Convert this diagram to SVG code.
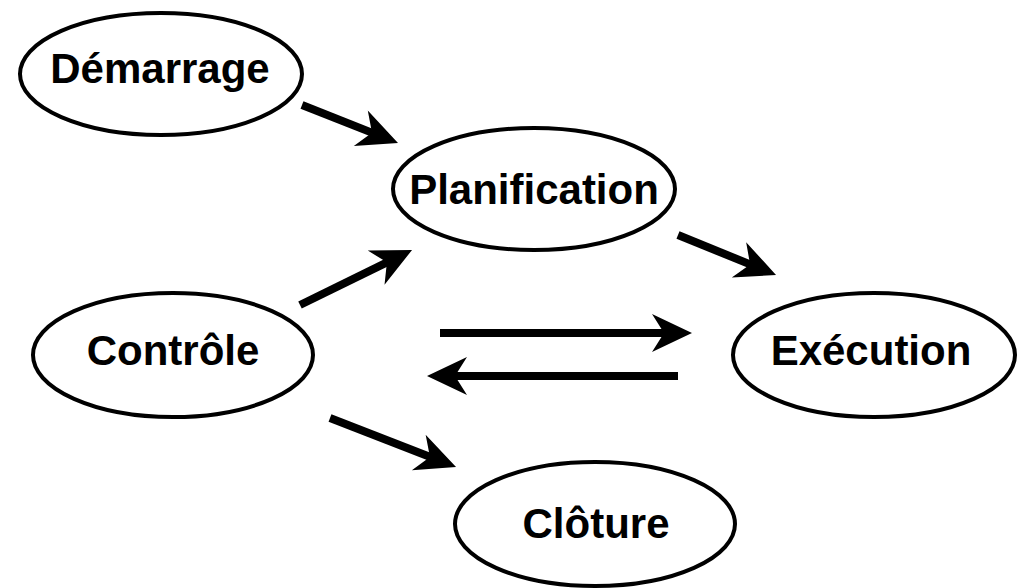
<svg xmlns="http://www.w3.org/2000/svg" width="1017" height="588" viewBox="0 0 1017 588">
<style>
.node ellipse{fill:#fff;stroke:#000;stroke-width:4}
.node text{font-family:"Liberation Sans",Arial,sans-serif;font-weight:bold;font-size:42px;fill:#000;text-anchor:middle}
.edge{stroke:#000;stroke-width:8;fill:none;marker-end:url(#ah)}
</style>
<defs>
<marker id="ah" markerUnits="userSpaceOnUse" viewBox="-42 -21 44 42" markerWidth="44" markerHeight="42" refX="-20" refY="0" orient="auto">
<path d="M0,0 L-40,-19 L-28,0 L-40,19 Z" fill="#000"/>
</marker>
</defs>
<rect width="1017" height="588" fill="#fff"/>
<g id="connectors">
<line class="edge" x1="302" y1="105" x2="379.4" y2="135.6"/>
<line class="edge" x1="300" y1="305" x2="394.1" y2="258.8"/>
<line class="edge" x1="440" y1="333" x2="672" y2="333"/>
<line class="edge" x1="678" y1="376" x2="447" y2="376"/>
<line class="edge" x1="678" y1="235" x2="757.5" y2="267.4"/>
<line class="edge" x1="330" y1="418" x2="437.4" y2="459.8"/>
</g>
<g id="demarrage" class="node"><ellipse cx="161" cy="74" rx="141" ry="61"/><text x="160" y="83">Démarrage</text></g>
<g id="planification" class="node"><ellipse cx="534" cy="189" rx="141" ry="61"/><text x="534" y="204">Planification</text></g>
<g id="controle" class="node"><ellipse cx="173" cy="355" rx="140" ry="62"/><text x="173" y="365">Contrôle</text></g>
<g id="execution" class="node"><ellipse cx="874" cy="355" rx="141" ry="62"/><text x="871" y="365">Exécution</text></g>
<g id="cloture" class="node"><ellipse cx="595" cy="524" rx="140" ry="62"/><text x="596" y="538">Clôture</text></g>
</svg>
